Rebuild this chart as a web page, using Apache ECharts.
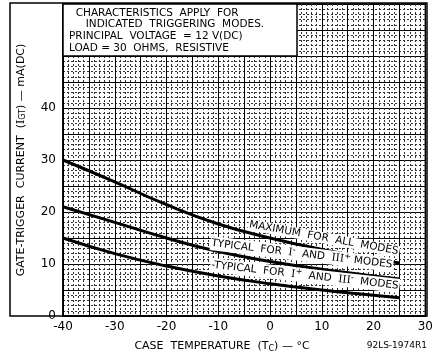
<!DOCTYPE html>
<html>
<head>
<meta charset="utf-8">
<script src="https://cdn.jsdelivr.net/npm/echarts@6/dist/echarts.min.js"></script>
<style>
  html, body { margin: 0; padding: 0; background: #fff; }
  #chart { width: 436px; height: 354px; }
</style>
</head>
<body>
<div id="chart"></div>
<script>
// case temperature, deg C
var temps = [-40, -30, -20, -10, 0, 10, 20, 25];
// gate trigger current, mA
var maxAllModes = [30, 25.8, 21.4, 17.7, 15.0, 12.8, 11.0, 10.2];
var typIminus = [21, 18.0, 15.0, 12.4, 10.5, 9.0, 7.7, 7.1];
var typIplus = [15, 12.0, 9.6, 7.7, 6.2, 5.0, 4.0, 3.5];

var xTicks = [-40, -30, -20, -10, 0, 10, 20, 30];
var yTicks = [0, 10, 20, 30, 40];

// curve labels: [start point, end point] in data coords (text bottom edge)
var curveLabels = [
  { text: 'MAXIMUM  FOR  ALL  MODES', from: [-4.4, 16.6], to: [25, 11.3] },
  { text: 'TYPICAL  FOR  {n|I}{s|-}  AND  {n|III}{s|+} MODES', from: [-11.7, 12.7], to: [25, 8.3] },
  { text: '-TYPICAL  FOR  {n|I}{s|+}  AND  {n|III}{s|-}  MODES', from: [-11.7, 8.5], to: [25, 4.4] }
];

var noteLines = [
  '  CHARACTERISTICS  APPLY  FOR',
  '     INDICATED  TRIGGERING  MODES.',
  'PRINCIPAL  VOLTAGE  = 12 V(DC)',
  'LOAD = 30  OHMS,  RESISTIVE'
];

function pairs(xs, ys) {
  return xs.map(function (x, i) { return [x, ys[i]]; });
}

var font = 'DejaVu Sans';
var chart = echarts.init(document.getElementById('chart'));

var lineStyle = { color: '#000', width: 3 };
function curve(name, vals) {
  return {
    name: name, type: 'line', smooth: true, symbol: 'none',
    lineStyle: lineStyle, data: pairs(temps, vals), z: 5
  };
}

var minorGrid = { show: true, lineStyle: { color: '#333', width: 1, type: [2, 2] } };

var option = {
  animation: false,
  backgroundColor: '#fff',
  grid: { left: 63, right: 9, top: 4, bottom: 38, show: true, borderColor: '#000', borderWidth: 1.5 },
  xAxis: {
    type: 'value', min: -40, max: 30, interval: 5,
    axisLine: { onZero: false, lineStyle: { color: '#000', width: 1.5 } },
    axisTick: { show: false },
    axisLabel: {
      color: '#000', fontFamily: font, fontSize: 12, margin: 5,
      formatter: function (v) { return xTicks.indexOf(v) >= 0 ? String(v) : ''; }
    },
    splitLine: { show: true, lineStyle: { color: '#000', width: 1 } },
    minorTick: { show: false, splitNumber: 5 },
    minorSplitLine: minorGrid
  },
  yAxis: {
    type: 'value', min: 0, max: 60, interval: 5,
    name: 'GATE-TRIGGER  CURRENT  ({n|I}{sub|GT}) — mA(DC)',
    nameLocation: 'middle', nameGap: 36, nameRotate: 90,
    nameTextStyle: {
      color: '#000', fontFamily: font, fontSize: 11,
      rich: {
        n: { fontFamily: 'DejaVu Serif', fontSize: 11, color: '#000' },
        sub: { fontFamily: font, fontSize: 8, color: '#000', verticalAlign: 'bottom', padding: [4, 0, 0, 0] }
      }
    },
    axisLine: { show: true, onZero: false, lineStyle: { color: '#000', width: 1.5 } },
    axisTick: { show: false },
    axisLabel: {
      color: '#000', fontFamily: font, fontSize: 12, margin: 7,
      formatter: function (v) { return yTicks.indexOf(v) >= 0 ? String(v) : ''; }
    },
    splitLine: { show: true, lineStyle: { color: '#000', width: 1 } },
    minorTick: { show: false, splitNumber: 5 },
    minorSplitLine: minorGrid
  },
  series: [
    curve('max', maxAllModes),
    curve('typ I- III+', typIminus),
    curve('typ I+ III-', typIplus)
  ]
};
chart.setOption(option);

// frame, note box, axis-name text and curve labels
var graphics = [
  { type: 'rect', z: 50, shape: { x: 10, y: 3, width: 417, height: 313 },
    style: { fill: null, stroke: '#000', lineWidth: 1.5 } },
  { type: 'rect', z: 50, shape: { x: 63, y: 4, width: 234, height: 52 },
    style: { fill: '#fff', stroke: '#000', lineWidth: 1.5 } },
  { type: 'text', z: 51, x: 69, y: 7,
    style: { text: noteLines.join('\n'), font: '10.5px ' + font, fill: '#000', lineHeight: 11.8 } },
  { type: 'text', z: 51, x: 222, y: 346,
    style: {
      text: 'CASE  TEMPERATURE  ({n|T}{sub|C}) — °C', fill: '#000', align: 'center', verticalAlign: 'middle',
      font: '11px ' + font,
      rich: {
        n: { font: '11px ' + font },
        sub: { font: '8px ' + font, verticalAlign: 'bottom', padding: [5, 0, 0, 0] }
      }
    } },
  { type: 'text', z: 51, x: 427, y: 346,
    style: { text: '92LS-1974R1', font: '9px ' + font, fill: '#000', align: 'right', verticalAlign: 'middle' } }
];

curveLabels.forEach(function (lb) {
  var p0 = chart.convertToPixel({ gridIndex: 0 }, lb.from);
  var p1 = chart.convertToPixel({ gridIndex: 0 }, lb.to);
  var ang = Math.atan2(p1[1] - p0[1], p1[0] - p0[0]);
  graphics.push({
    type: 'text', z: 60, x: p0[0], y: p0[1], rotation: -ang,
    style: {
      text: lb.text, fill: '#000', font: '10.5px ' + font,
      align: 'left', verticalAlign: 'bottom',
      backgroundColor: '#fff', padding: [0, 1, 0, 1],
      rich: {
        n: { font: '10.5px DejaVu Serif', fill: '#000' },
        s: { font: '8px ' + font, fill: '#000', verticalAlign: 'top', padding: [0, 0, 6, 0] }
      }
    }
  });
});

chart.setOption({ graphic: graphics });
</script>
</body>
</html>
